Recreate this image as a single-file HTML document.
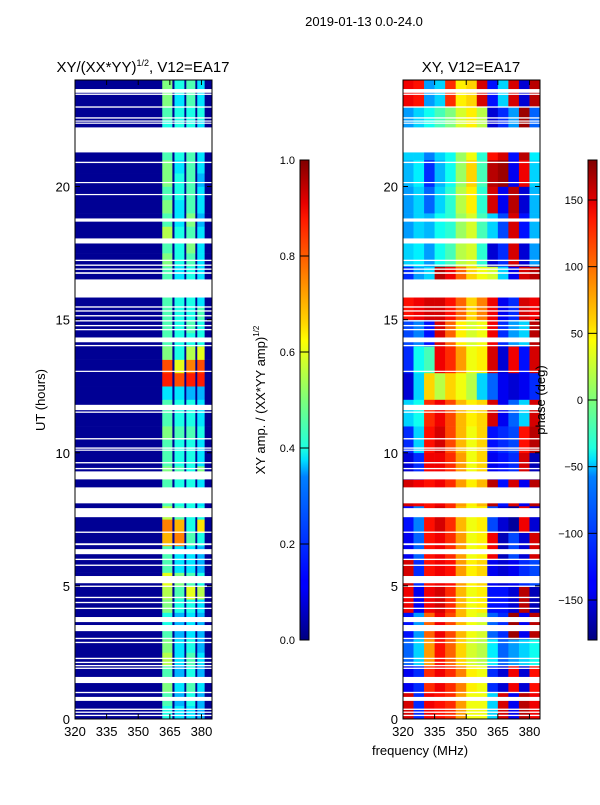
<!DOCTYPE html>
<html><head><meta charset="utf-8"><style>
body{margin:0;background:#fff;}
svg text{font-family:"Liberation Sans",sans-serif;fill:#000;}
</style></head><body>
<svg id="fig" width="600" height="800" xmlns="http://www.w3.org/2000/svg">
<defs>
<linearGradient id="jetg" x1="0" y1="1" x2="0" y2="0">
<stop offset="0" stop-color="#000080"/><stop offset="0.11" stop-color="#0000ff"/><stop offset="0.125" stop-color="#0000ff"/>
<stop offset="0.34" stop-color="#0080ff"/><stop offset="0.375" stop-color="#00e0ff"/><stop offset="0.4" stop-color="#1effdf"/>
<stop offset="0.5" stop-color="#7dff7a"/><stop offset="0.625" stop-color="#ffff00"/><stop offset="0.66" stop-color="#ffd700"/>
<stop offset="0.875" stop-color="#ff1a00"/><stop offset="0.91" stop-color="#e80000"/><stop offset="1" stop-color="#800000"/>
</linearGradient>
</defs>
<text x="364" y="26" font-size="13" text-anchor="middle">2019-01-13 0.0-24.0</text>
<text x="143" y="72" font-size="15" text-anchor="middle">XY/(XX*YY)<tspan font-size="9" dy="-6">1/2</tspan><tspan dy="6">, V12=EA17</tspan></text>
<text x="471" y="72" font-size="15" text-anchor="middle">XY, V12=EA17</text>
<text x="45" y="400" font-size="13" text-anchor="middle" transform="rotate(-90 45 400)">UT (hours)</text>
<text x="420" y="755" font-size="13" text-anchor="middle">frequency (MHz)</text>
<text x="265" y="400" font-size="13" text-anchor="middle" transform="rotate(-90 265 400)">XY amp. / (XX*YY amp)<tspan font-size="8" dy="-6">1/2</tspan></text>
<g id="ampPanel"></g>
<g id="phasePanel"></g>
<g id="axes"></g>
<rect x="300" y="160" width="9" height="480" fill="url(#jetg)" stroke="#000" stroke-width="1"/>
<rect x="588" y="160" width="9" height="480" fill="url(#jetg)" stroke="#000" stroke-width="1"/>
<g id="cbars"></g>
<text x="545" y="400" font-size="13" text-anchor="middle" transform="rotate(-90 545 400)">phase (deg)</text>
</svg>
<script>
// ---- data ----
const freqTicks = [320,335,350,365,380];
const hourTicks = [0,5,10,15,20];
const ampTicks = [0.0,0.2,0.4,0.6,0.8,1.0];
const phaseTicks = [-150,-100,-50,0,50,100,150];
const ampFreqEdges = [320,361.4,366.2,367.2,371.9,372.8,377.1,378,381.5,385];
const ampBackground = 0.02;
// half-hour rows (0-24h), values for 4 bright strips
const ampStrips = [
[0.4,0.35,0.35,0.3],[0.45,0.3,0.4,0.3],[0.5,0.35,0.45,0.35],[0.45,0.3,0.4,0.3],
[0.55,0.35,0.45,0.35],[0.5,0.35,0.4,0.3],[0.45,0.3,0.35,0.3],[0.4,0.3,0.35,0.3],
[0.5,0.4,0.4,0.35],[0.55,0.45,0.6,0.55],[0.6,0.5,0.45,0.4],[0.45,0.35,0.35,0.3],
[0.45,0.35,0.35,0.3],[0.7,0.75,0.45,0.4],[0.75,0.7,0.4,0.65],[0.55,0.45,0.4,0.4],
[0.45,0.4,0.4,0.35],[0.45,0.4,0.4,0.35],[0.5,0.45,0.4,0.5],[0.45,0.4,0.4,0.35],
[0.45,0.4,0.4,0.35],[0.5,0.45,0.45,0.4],[0.45,0.4,0.4,0.35],[0.45,0.4,0.4,0.35],
[0.35,0.35,0.3,0.3],[0.85,0.8,0.85,0.85],[0.8,0.6,0.75,0.8],[0.5,0.4,0.55,0.6],
[0.45,0.4,0.4,0.4],[0.45,0.4,0.45,0.4],[0.45,0.4,0.4,0.45],[0.45,0.4,0.4,0.35],
[0.4,0.35,0.4,0.35],[0.45,0.35,0.4,0.35],[0.5,0.4,0.45,0.35],[0.45,0.4,0.5,0.35],
[0.55,0.4,0.45,0.35],[0.45,0.35,0.5,0.3],[0.5,0.35,0.45,0.35],[0.45,0.4,0.45,0.35],
[0.5,0.4,0.45,0.3],[0.5,0.35,0.45,0.35],[0.45,0.4,0.45,0.35],[0.5,0.4,0.4,0.35],
[0.4,0.4,0.4,0.35],[0.45,0.4,0.4,0.4],[0.5,0.35,0.45,0.35],[0.5,0.4,0.45,0.35]
];
const phaseFreqEdges = [320,325,330,335,340,345,350,355,360,365,370,375,380,385];
const phaseRows = [
[150,-120,140,130,120,80,40,40,-60,150,-140,160,140],
[-140,-120,120,140,120,90,50,40,-120,-150,140,-150,130],
[-100,-60,80,130,100,60,30,20,-50,-100,-80,-60,-40],
[-130,-80,100,140,110,70,40,30,-100,-120,170,-140,160],
[140,-140,140,150,120,70,40,50,-130,-130,-150,160,-160],
[150,-120,130,140,130,80,50,60,-140,-150,-140,-120,-110],
[-140,-100,130,140,120,80,40,50,140,-160,-110,-150,150],
[-130,-90,130,150,120,70,40,50,-110,-150,-170,140,-150],
[150,140,130,140,120,80,50,70,160,-130,150,-140,160],
[-150,-120,140,140,120,80,40,60,-140,-130,-120,150,-160],
[-120,-60,130,150,110,70,40,60,-130,-120,-110,130,160],
[-60,-40,120,140,110,70,50,60,150,-140,-100,-60,150],
[-150,-60,60,20,60,40,20,-60,-100,-140,-150,-140,-120],
[-120,-40,-20,140,120,80,40,50,150,-150,140,-130,150],
[-110,-90,-130,150,100,50,30,40,140,-120,-80,-60,160],
[130,140,150,150,130,100,60,90,140,-140,-120,150,140],
[-120,-80,-60,160,140,100,60,40,30,-60,-140,150,160],
[-60,-50,-80,-40,-20,20,30,-30,-150,-120,150,-150,-80],
[-80,-60,-70,-40,-30,10,30,-20,-60,-110,150,-130,-70],
[-80,-60,-100,-60,-30,20,50,-30,150,-140,160,-150,-70],
[-70,-50,-120,-70,-40,10,60,-20,160,170,-140,140,-60],
[-60,-60,-90,-60,-40,10,40,-30,130,150,-130,160,-50],
[-80,-60,-40,-20,0,30,50,20,-150,-120,-80,170,-100],
[140,130,-80,-60,120,50,60,150,-130,-60,150,-150,160]
];
// flagged (white) time ranges in hours
const gaps = [
[23.52,23.66],[23.44,23.49],[22.96,23.01],[22.55,22.6],[22.44,22.48],[22.36,22.4],[21.28,22.22],
[20.88,20.93],[20.13,20.17],[19.68,19.72],[18.68,18.8],[17.86,18.05],[17.2,17.25],[17.02,17.07],
[16.87,16.92],[16.72,16.78],[15.83,16.51],[15.45,15.5],[15.3,15.35],[15.12,15.17],[14.93,14.98],
[14.75,14.8],[14.6,14.65],[14.15,14.33],[14.0,14.05],[13.04,13.08],[11.6,11.8],[11.5,11.55],
[10.5,10.55],[10.15,10.2],[10.08,10.12],[9.6,9.65],[9.38,9.43],[9.0,9.3],[8.1,8.7],[7.58,7.92],
[6.99,7.04],[6.53,6.6],[6.19,6.38],[5.97,6.02],[5.75,5.8],[5.1,5.37],[4.96,5.01],[4.54,4.59],
[4.35,4.4],[4.13,4.18],[3.64,3.83],[3.3,3.53],[3.0,3.05],[2.85,2.9],[2.25,2.3],[2.1,2.15],
[1.98,2.03],[1.88,1.93],[1.35,1.58],[0.97,1.02],[0.68,0.83],[0.34,0.39],[0.23,0.28],[0.11,0.16]
];
// ---- drawing ----
const NS='http://www.w3.org/2000/svg';
const PT=80, PB=719, AL=75, AR=212, PL=403, PR=540;
const yS = h => PB - (h/24)*(PB-PT);
const xA = f => AL + (f-320)/65*(AR-AL);
const xP = f => PL + (f-320)/65*(PR-PL);
function jet(v){v=Math.max(0,Math.min(1,v));
 const c=x=>Math.max(0,Math.min(1,x));
 const r=c(1.5-Math.abs(4*v-3)), g=c(1.5-Math.abs(4*v-2)), b=c(1.5-Math.abs(4*v-1));
 return `rgb(${Math.round(r*255)},${Math.round(g*255)},${Math.round(b*255)})`;}
function mk(tag,attrs,parent){const e=document.createElementNS(NS,tag);for(const k in attrs)e.setAttribute(k,attrs[k]);parent.appendChild(e);return e;}
const ampG=document.getElementById('ampPanel'), phG=document.getElementById('phasePanel');
ampStrips.forEach((row,i)=>{
 const h0=i*0.5,h1=h0+0.5;
 for(let j=0;j<ampFreqEdges.length-1;j++){
  const v = (j%2===1) ? row[(j-1)/2] : ampBackground;
  const r=mk('rect',{x:xA(ampFreqEdges[j]),y:yS(h1),width:xA(ampFreqEdges[j+1])-xA(ampFreqEdges[j])+0.3,height:yS(h0)-yS(h1)+0.3,fill:jet(v)},ampG);
  
  
 }
});
phaseRows.forEach((row,i)=>{
 row.forEach((p,j)=>{
  const r=mk('rect',{x:xP(phaseFreqEdges[j]),y:yS(i+1),width:xP(phaseFreqEdges[j+1])-xP(phaseFreqEdges[j])+0.3,height:yS(i)-yS(i+1)+0.3,fill:jet((p+180)/360)},phG);
  
  
 });
});
gaps.forEach(g=>{
 [[AL,AR,ampG],[PL,PR,phG]].forEach(([l,rr,par])=>{
  const r=mk('rect',{x:l,y:yS(g[1]),width:rr-l,height:Math.max(1.2,yS(g[0])-yS(g[1])),fill:'#fff'},par);
  
  
 });
});
const ax=document.getElementById('axes');
[[AL,AR,xA,'amp'],[PL,PR,xP,'phase']].forEach(([l,rr,xf,nm])=>{
 const fr=mk('rect',{x:l,y:PT,width:rr-l,height:PB-PT,fill:'none',stroke:'#000','stroke-width':1},ax);
 
 
 freqTicks.forEach(f=>{const x=xf(f);
  mk('line',{x1:x,x2:x,y1:PB,y2:PB-5,stroke:'#000'},ax);mk('line',{x1:x,x2:x,y1:PT,y2:PT+5,stroke:'#000'},ax);
  const t=mk('text',{x:x,y:PB+17,'font-size':13,'text-anchor':'middle'},ax);t.textContent=f;
  
  
 });
 hourTicks.forEach(h=>{const y=yS(h);
  mk('line',{x1:l,x2:l+5,y1:y,y2:y,stroke:'#000'},ax);mk('line',{x1:rr,x2:rr-5,y1:y,y2:y,stroke:'#000'},ax);
  const t=mk('text',{x:l-5,y:y+5,'font-size':13,'text-anchor':'end'},ax);t.textContent=h;
  
  
 });
});
const cb=document.getElementById('cbars');
ampTicks.forEach(v=>{const y=640-v*480;
 mk('line',{x1:300,x2:309,y1:y,y2:y,stroke:'#000'},cb);
 const t=mk('text',{x:295,y:y+4,'font-size':11,'text-anchor':'end'},cb);t.textContent=v.toFixed(1);
 
 
});
phaseTicks.forEach(v=>{const y=640-(v+180)/360*480;
 mk('line',{x1:588,x2:597,y1:y,y2:y,stroke:'#000'},cb);
 const t=mk('text',{x:583,y:y+4,'font-size':11,'text-anchor':'end'},cb);t.textContent=v<0?'\u2212'+(-v):v;
 
 
});
</script>
</body></html>
